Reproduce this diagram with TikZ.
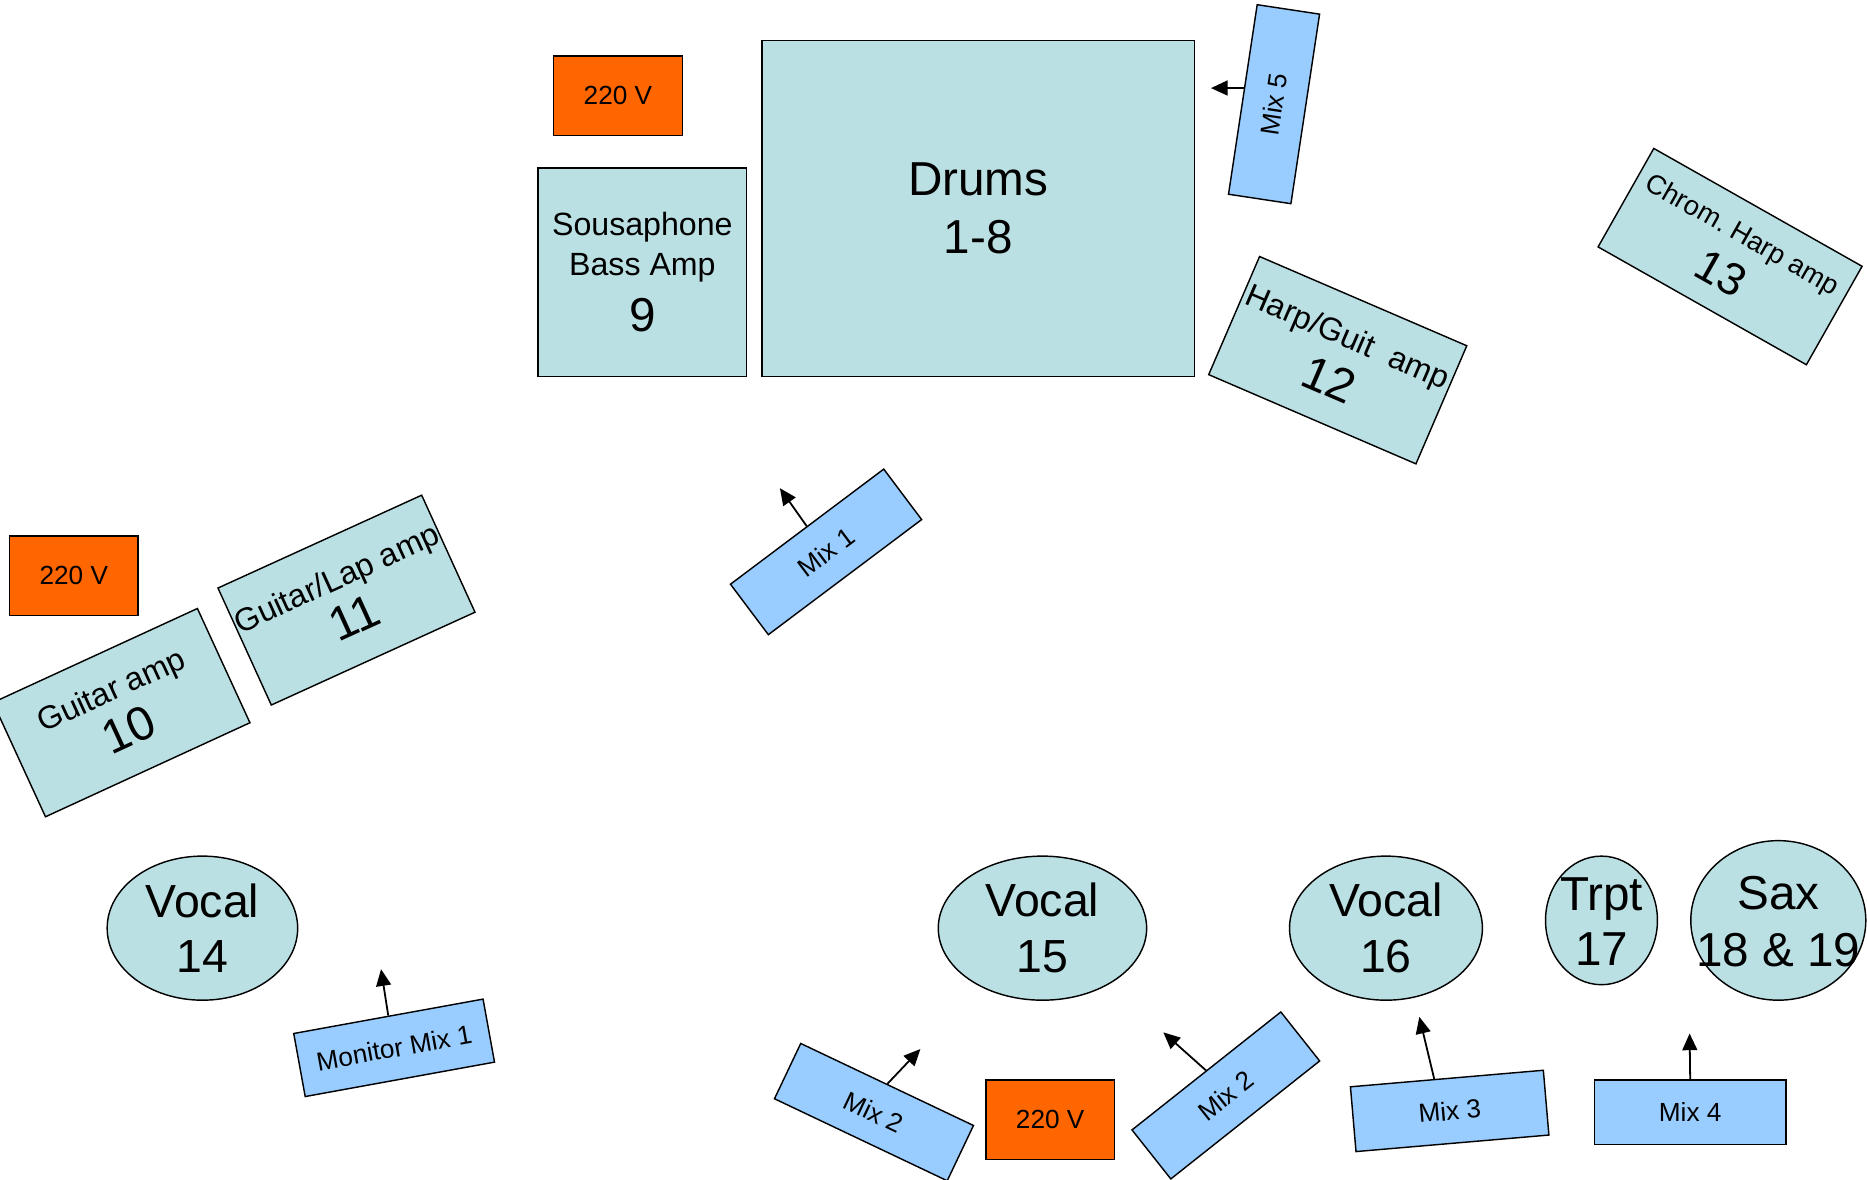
\documentclass[tikz,border=0pt]{standalone}
\usepackage{fontspec}
\setmainfont{Liberation Sans}
\usetikzlibrary{shapes.geometric,arrows.meta,calc}
\definecolor{ampfill}{RGB}{187,224,227}
\definecolor{mixfill}{RGB}{153,204,255}
\definecolor{pwrfill}{RGB}{255,102,0}
\newcommand\fs[1]{\fontsize{#1}{#1}\selectfont}
\newcommand\zc[3]{\hbox to 0pt{\hss\raise#1\vbox to 0pt{\vss\baselineskip=#2\lineskiplimit=-100pt\halign{\hfil##\hfil\cr#3\crcr}\vss}\hss}}
\tikzset{
  base/.style={draw=black, line width=1.2pt, inner sep=0pt},
  amp/.style={base, rectangle, fill=ampfill},
  mixbox/.style={base, rectangle, fill=mixfill},
  pwr/.style={base, rectangle, fill=pwrfill, minimum width=108pt, minimum height=67pt},
  voc/.style={base, ellipse, fill=ampfill},
  feed/.style={line width=1.5pt, -{Triangle[length=14pt,width=12.5pt]}},
  sz/.style 2 args={minimum width=#1pt, minimum height=#2pt},
}
\begin{document}
\begin{tikzpicture}[x=1pt,y=-1pt]
\useasboundingbox (0,0) rectangle (1568,991);

% power outlets
\node[pwr] (p1) at (519,80.5) {\zc{0pt}{20pt}{\fs{22}220 V}};
\node[pwr] (p2) at (62,483.5) {\zc{0pt}{20pt}{\fs{22}220 V}};
\node[pwr] (p3) at (882,940.5) {\zc{0pt}{20pt}{\fs{22}220 V}};

% amps and drums
\node[amp, sz={175}{175}] (sousa) at (539.5,228.5)
  {\zc{0pt}{33pt}{\fs{27}Sousaphone\cr\fs{27}Bass Amp\cr\noalign{\vskip14pt}\fs{40}9}};
\node[amp, sz={363}{282}] (drums) at (821.5,175)
  {\zc{0pt}{48pt}{\fs{40}Drums\cr\fs{40}1-8}};
\node[amp, sz={189.5}{108}, rotate=-23.3] (harp) at (1123.5,302.5)
  {\zc{0pt}{44pt}{\fs{27}Harp/Guit\ \ amp\cr\fs{40}12}};
\node[amp, sz={201}{95}, rotate=-29.5] (chrom) at (1453,215.5)
  {\zc{1pt}{43pt}{\fs{23}Chrom.\ Harp amp\cr\fs{38}13}};
\node[amp, sz={189}{105.6}, rotate=24.7] (g10) at (102,598.5)
  {\zc{2pt}{41pt}{\fs{27}Guitar amp\cr\fs{40}10}};
\node[amp, sz={188}{108}, rotate=24.5] (g11) at (291,504)
  {\zc{0.5pt}{41pt}{\fs{27}Guitar/Lap amp\cr\fs{40}11}};

% vocal / horn positions
\node[voc, sz={160}{121}] (v14) at (170,779.5) {\zc{0pt}{47pt}{\fs{39}Vocal\cr\fs{39}14}};
\node[voc, sz={175}{121}] (v15) at (875.5,779.5) {\zc{0pt}{47pt}{\fs{39}Vocal\cr\fs{39}15}};
\node[voc, sz={162}{121}] (v16) at (1164,779.5) {\zc{0pt}{47pt}{\fs{39}Vocal\cr\fs{39}16}};
\node[voc, sz={94}{108}] (tr17) at (1345,773) {\zc{-2pt}{47pt}{\fs{40}Trpt\cr\fs{40}17}};
\node[voc, sz={147}{134}] (sax) at (1493.5,773) {\zc{-2pt}{48pt}{\fs{40}Sax\cr\fs{40}18 \& 19}};

% monitor mixes
\node[mixbox, sz={161}{53}, rotate=81.4] (mix5) at (1070,87.5) {\zc{0pt}{20pt}{\fs{22}Mix 5}};
\node[mixbox, sz={161}{53}, rotate=36.9] (mix1) at (693.75,463.5) {\zc{0pt}{20pt}{\fs{22}Mix 1}};
\node[mixbox, sz={161.6}{53.8}, rotate=10.3] (monmix) at (331,880) {\zc{0pt}{20pt}{\fs{22}Monitor Mix 1}};
\node[mixbox, sz={160.6}{51.4}, rotate=-25.4] (mix2a) at (734,934) {\zc{0pt}{20pt}{\fs{22}Mix 2}};
\node[mixbox, sz={159.5}{52.5}, rotate=38.4] (mix2b) at (1029.5,920) {\zc{0pt}{20pt}{\fs{22}Mix 2}};
\node[mixbox, sz={162.6}{54.6}, rotate=4.9] (mix3) at (1217.5,933) {\zc{0pt}{20pt}{\fs{22}Mix 3}};
\node[mixbox, sz={161}{54}] (mix4) at (1419.5,934) {\zc{0pt}{20pt}{\fs{22}Mix 4}};

% arrow targets
\coordinate (t5) at (1017,74);
\coordinate (t1) at (655,410);
\coordinate (tm) at (320,814);
\coordinate (t2a) at (773,881);
\coordinate (t2b) at (977,867);
\coordinate (t3) at (1192,854);
\coordinate (t4) at (1419,868);

\draw[feed] ($(mix5.north)!0.12!(mix5.north east)$) -- (t5);
\draw[feed] (mix1.north) -- (t1);
\draw[feed] (monmix.north) -- (tm);
\draw[feed] (mix2a.north) -- (t2a);
\draw[feed] (mix2b.north) -- (t2b);
\draw[feed] ($(mix3.north)!0.13!(mix3.north west)$) -- (t3);
\draw[feed] (mix4.north) -- (t4);
\end{tikzpicture}
\end{document}
